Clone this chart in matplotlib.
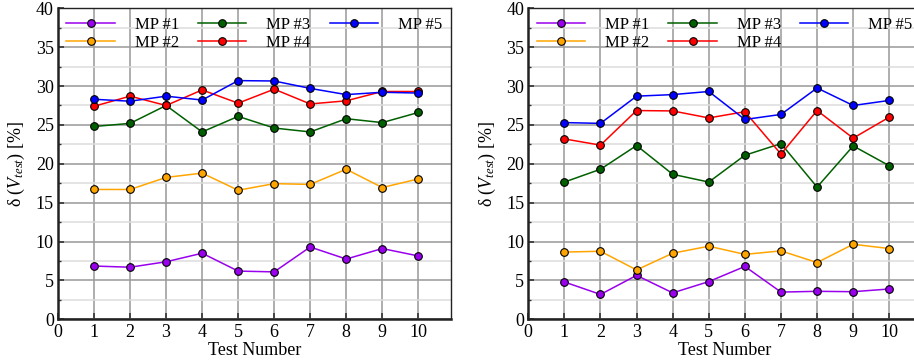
import numpy as np
import matplotlib
matplotlib.use("Agg")
import matplotlib.pyplot as plt
from matplotlib.ticker import MultipleLocator

plt.rcParams['font.family'] = ['Liberation Serif', 'DejaVu Serif']
plt.rcParams['mathtext.fontset'] = 'custom'
plt.rcParams['mathtext.rm'] = 'Liberation Serif'
plt.rcParams['mathtext.it'] = 'Liberation Serif:italic'

tests = [1, 2, 3, 4, 5, 6, 7, 8, 9, 10]
labels = ["MP #1", "MP #2", "MP #3", "MP #4", "MP #5"]
colors = ["#9900ee", "#ffa500", "#006000", "#ff0000", "#0000ff"]

left_mp1 = [6.85, 6.7, 7.4, 8.5, 6.2, 6.1, 9.3, 7.75, 9.1, 8.15]
left_mp2 = [16.7, 16.7, 18.25, 18.8, 16.6, 17.45, 17.35, 19.3, 16.95, 18.05]
left_mp3 = [24.8, 25.2, 27.5, 24.1, 26.1, 24.6, 24.1, 25.8, 25.3, 26.6]
left_mp4 = [27.4, 28.7, 27.5, 29.5, 27.8, 29.6, 27.7, 28.1, 29.3, 29.3]
left_mp5 = [28.3, 28.05, 28.7, 28.2, 30.7, 30.65, 29.7, 28.9, 29.2, 29.1]

right_mp1 = [4.8, 3.2, 5.65, 3.4, 4.85, 6.8, 3.5, 3.6, 3.55, 3.9]
right_mp2 = [8.65, 8.75, 6.35, 8.5, 9.4, 8.35, 8.8, 7.3, 9.65, 9.1]
right_mp3 = [17.65, 19.3, 22.35, 18.65, 17.65, 21.1, 22.6, 17.0, 22.3, 19.75]
right_mp4 = [23.2, 22.4, 26.85, 26.8, 25.9, 26.7, 21.25, 26.85, 23.3, 26.0]
right_mp5 = [25.3, 25.2, 28.7, 28.9, 29.3, 25.7, 26.35, 29.75, 27.5, 28.15]


def draw_panel(ax, series):
	for vals, lab, col in zip(series, labels, colors):
		ax.plot(tests, vals, color=col, lw=1.1, marker='o', markersize=5.5,
			markerfacecolor=col, markeredgecolor='black', markeredgewidth=0.8,
			label=lab, zorder=3)
	ax.set_xlim(0, 10.9)
	ax.set_ylim(0, 40)
	ax.xaxis.set_major_locator(MultipleLocator(1))
	ax.yaxis.set_major_locator(MultipleLocator(5))
	ax.yaxis.set_minor_locator(MultipleLocator(2.5))
	ax.grid(which='major', axis='both', color='#999999', lw=1.1, zorder=0)
	ax.grid(which='minor', axis='y', color='#dcdcdc', lw=1.1, zorder=0)
	ax.set_axisbelow(True)
	ax.tick_params(which='both', direction='in', labelsize=13, color='#333333')
	ax.tick_params(which='major', length=4, width=1.2)
	ax.tick_params(which='minor', length=2, width=1)
	ax.tick_params(axis='x', pad=3.5)
	ax.tick_params(axis='y', pad=3)
	for s in ['left', 'bottom']:
		ax.spines[s].set_linewidth(1.8)
		ax.spines[s].set_color('#222222')
	for s in ['top', 'right']:
		ax.spines[s].set_linewidth(1.0)
		ax.spines[s].set_color('#222222')
	ax.set_xlabel("Test Number", fontsize=13, labelpad=0.5)
	ax.set_ylabel(r"δ ($V_{test}$) [%]", fontsize=13, labelpad=6)
	ax.legend(loc='upper left', ncol=3, frameon=False, fontsize=12,
		handlelength=2.9, handletextpad=1.2, columnspacing=1.15,
		labelspacing=0.15, borderaxespad=0.3, borderpad=0.2)


fig = plt.figure(figsize=(9.14, 3.61), dpi=100)
ax1 = fig.add_axes([0.0635, 0.1155, 0.4296, 0.8615])
ax2 = fig.add_axes([0.578, 0.1155, 0.4305, 0.8615])

draw_panel(ax1, [left_mp1, left_mp2, left_mp3, left_mp4, left_mp5])
draw_panel(ax2, [right_mp1, right_mp2, right_mp3, right_mp4, right_mp5])

fig.savefig("out.png", dpi=100)
